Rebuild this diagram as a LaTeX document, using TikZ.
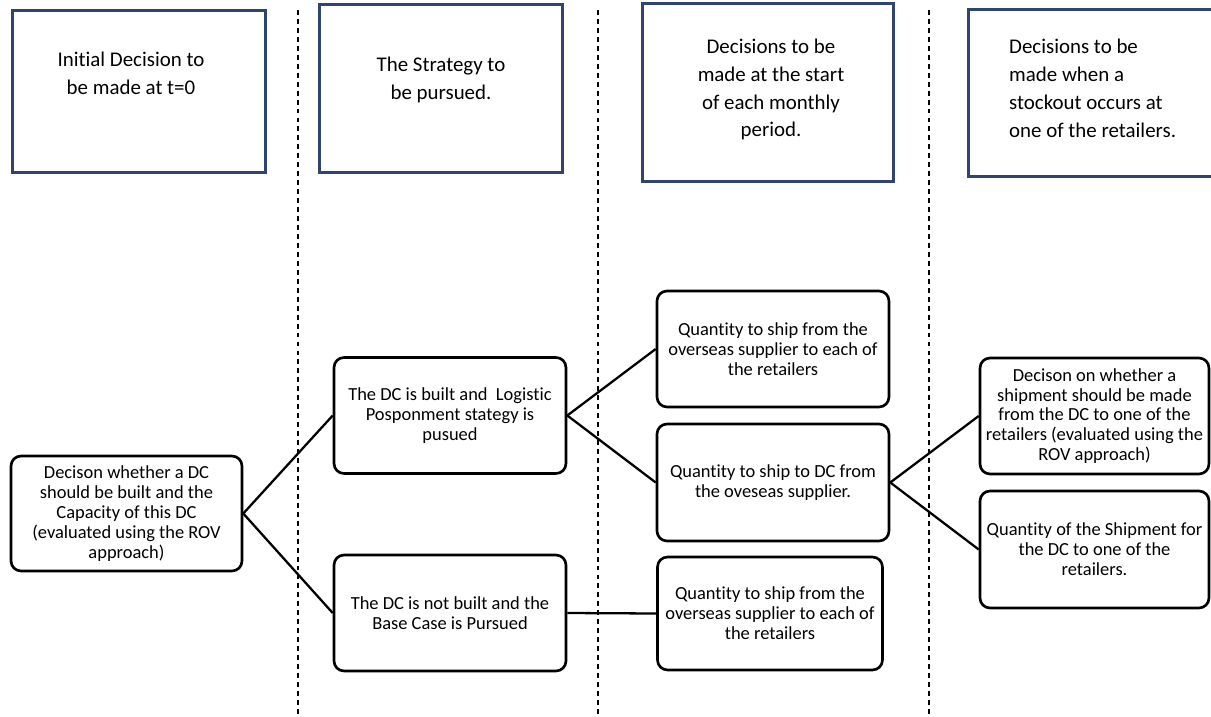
\documentclass[tikz,border=0pt]{standalone}
\usepackage{fontspec}
\setmainfont{Carlito}[Ligatures=NoCommon]
\usepackage{xcolor}
\usepackage{tikz}
\usetikzlibrary{calc, positioning}
\definecolor{headblue}{RGB}{47,69,112}

\begin{document}
\begin{tikzpicture}[>=latex, x=0.02cm, y=-0.02cm,
    headbox/.style={draw=headblue, line width=1.7pt, fill=white},
    headtext/.style={align=center, font=\fontsize{11.9}{15.9}\selectfont},
    decbox/.style={draw, line width=1.5pt, rounded corners=0.2cm, fill=white,
        align=center, inner sep=1pt, minimum width=4.64cm, minimum height=2.32cm,
        font=\fontsize{10.5}{11.3}\selectfont},
    link/.style={line width=1.3pt},
    sepline/.style={line width=0.95pt, dash pattern=on 2.8pt off 2.3pt}]
    % 1. Khung hình
    \clip (0,0) rectangle (1211,717);
    \fill[white] (0,0) rectangle (1211,717);

    % 2. Các đường phân cách
    \foreach \x in {298,598,929} {
        \draw[sepline] (\x,10) -- (\x,717);
    }

    % 3. Các ô tiêu đề
    \node[headbox, minimum width=5.08cm, minimum height=3.26cm] (h1) at (139,91.5) {};
    \node[headbox, minimum width=4.88cm, minimum height=3.38cm] (h2) at (441,88.5) {};
    \node[headbox, minimum width=5.04cm, minimum height=3.58cm] (h3) at (768,92.5) {};
    \node[headbox, minimum width=5.28cm, minimum height=3.36cm] (h4) at (1100,93) {};
    \node[headtext] (t1) at (131,73.5) {Initial Decision to\\be made at t=0};
    \node[headtext] (t2) at (441,79.5) {The Strategy to\\be pursued.};
    \node[headtext] (t3) at (771,89.5) {Decisions to be\\made at the start\\of each monthly\\period.};
    \node[headtext, align=left, anchor=west] (t4) at (1003,88.5)
        {Decisions to be\\made when a\\stockout occurs at\\one of the retailers.};

    % 4. Các quyết định
    \node[decbox, minimum width=4.62cm, minimum height=2.3cm] (root) at (126.5,513.5)
        {Decison whether a DC\\should be built and the\\Capacity of this DC\\(evaluated using the ROV\\approach)};
    \node[decbox] (built) at (450,415.5)
        {The DC is built and\ \ Logistic\\Posponment stategy is\\pusued};
    \node[decbox] (notbuilt) at (450,613)
        {The DC is not built and the\\Base Case is Pursued};
    \node[decbox] (shipret) at (773,349)
        {Quantity to ship from the\\overseas supplier to each of\\the retailers};
    \node[decbox, minimum height=2.34cm] (shipdc) at (773,482.5)
        {Quantity to ship to DC from\\the oveseas supplier.};
    \node[decbox, minimum width=4.5cm, minimum height=2.26cm] (shipbase) at (770,613.5)
        {Quantity to ship from the\\overseas supplier to each of\\the retailers};
    \node[decbox, minimum width=4.58cm] (rov) at (1094.5,416)
        {Decison on whether a\\shipment should be made\\from the DC to one of the\\retailers (evaluated using the\\ROV approach)};
    \node[decbox, minimum width=4.58cm, minimum height=2.34cm] (qty) at (1094.5,549.5)
        {Quantity of the Shipment for\\the DC to one of the\\retailers.};

    % 5. Các nhánh
    \draw[link] (root.east) -- (built.west);
    \draw[link] (root.east) -- (notbuilt.west);
    \draw[link] (built.east) -- (shipret.west);
    \draw[link] (built.east) -- (shipdc.west);
    \draw[link] (notbuilt.east) -- (shipbase.west);
    \draw[link] (shipdc.east) -- (rov.west);
    \draw[link] (shipdc.east) -- (qty.west);
\end{tikzpicture}
\end{document}
